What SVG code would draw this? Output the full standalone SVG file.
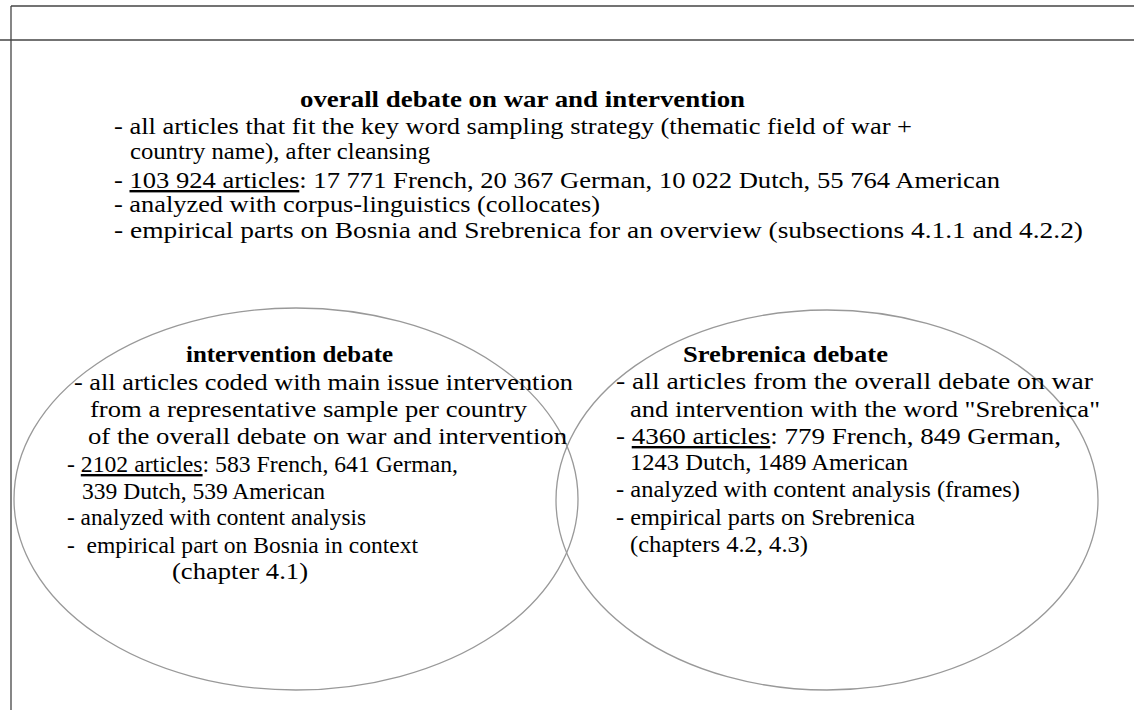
<svg xmlns="http://www.w3.org/2000/svg" width="1134" height="710" viewBox="0 0 1134 710">
<style>
text{font-family:"Liberation Serif","Times New Roman",Times,serif;font-size:24px;fill:#000}
.b{font-weight:bold}
.u{text-decoration:underline}
.frame{stroke:#444;stroke-width:1.3;fill:none}
.ell{stroke:#999;stroke-width:1.3;fill:none}
</style>
<g id="frame">
<line class="frame" x1="11" y1="6" x2="1134" y2="6"/>
<line class="frame" x1="11" y1="6" x2="11" y2="710"/>
<line class="frame" x1="0" y1="40" x2="1134" y2="40" stroke="#222"/>
</g>
<g id="connectors"></g>
<g id="overall" font-family="Liberation Serif, Times New Roman, serif">
<text class="b" x="300" y="107" textLength="445" lengthAdjust="spacingAndGlyphs">overall debate on war and intervention</text>
<text x="114" y="134" textLength="798" lengthAdjust="spacingAndGlyphs">- all articles that fit the key word sampling strategy (thematic field of war +</text>
<text x="130" y="159" textLength="300" lengthAdjust="spacingAndGlyphs">country name), after cleansing</text>
<text x="114" y="188" textLength="886" lengthAdjust="spacingAndGlyphs">- <tspan class="u">103 924 articles</tspan>: 17 771 French, 20 367 German, 10 022 Dutch, 55 764 American</text>
<text x="114" y="212" textLength="486" lengthAdjust="spacingAndGlyphs">- analyzed with corpus-linguistics (collocates)</text>
<text x="114" y="238" textLength="969" lengthAdjust="spacingAndGlyphs">- empirical parts on Bosnia and Srebrenica for an overview (subsections 4.1.1 and 4.2.2)</text>
</g>
<g id="intervention" font-family="Liberation Serif, Times New Roman, serif">
<ellipse class="ell" cx="296" cy="499" rx="282" ry="191"/>
<text class="b" x="186" y="362" textLength="207" lengthAdjust="spacingAndGlyphs">intervention debate</text>
<text x="74" y="390" textLength="499" lengthAdjust="spacingAndGlyphs">- all articles coded with main issue intervention</text>
<text x="90" y="417" textLength="437" lengthAdjust="spacingAndGlyphs">from a representative sample per country</text>
<text x="88" y="444" textLength="479" lengthAdjust="spacingAndGlyphs">of the overall debate on war and intervention</text>
<text x="67" y="472" textLength="391" lengthAdjust="spacingAndGlyphs">- <tspan class="u">2102 articles</tspan>: 583 French, 641 German,</text>
<text x="82" y="499" textLength="243" lengthAdjust="spacingAndGlyphs">339 Dutch, 539 American</text>
<text x="67" y="525" textLength="299" lengthAdjust="spacingAndGlyphs">- analyzed with content analysis</text>
<text x="67" y="553" textLength="351" lengthAdjust="spacingAndGlyphs" xml:space="preserve">-  empirical part on Bosnia in context</text>
<text x="172" y="579" textLength="136" lengthAdjust="spacingAndGlyphs">(chapter 4.1)</text>
</g>
<g id="srebrenica" font-family="Liberation Serif, Times New Roman, serif">
<ellipse class="ell" cx="827" cy="500" rx="271" ry="190"/>
<text class="b" x="683" y="362" textLength="205" lengthAdjust="spacingAndGlyphs">Srebrenica debate</text>
<text x="616" y="389" textLength="477" lengthAdjust="spacingAndGlyphs">- all articles from the overall debate on war</text>
<text x="630" y="417" textLength="470" lengthAdjust="spacingAndGlyphs">and intervention with the word "Srebrenica"</text>
<text x="616" y="444" textLength="445" lengthAdjust="spacingAndGlyphs">- <tspan class="u">4360 articles</tspan>: 779 French, 849 German,</text>
<text x="630" y="470" textLength="278" lengthAdjust="spacingAndGlyphs">1243 Dutch, 1489 American</text>
<text x="616" y="497" textLength="404" lengthAdjust="spacingAndGlyphs">- analyzed with content analysis (frames)</text>
<text x="616" y="525" textLength="299" lengthAdjust="spacingAndGlyphs">- empirical parts on Srebrenica</text>
<text x="630" y="552" textLength="178" lengthAdjust="spacingAndGlyphs">(chapters 4.2, 4.3)</text>
</g>
</svg>
